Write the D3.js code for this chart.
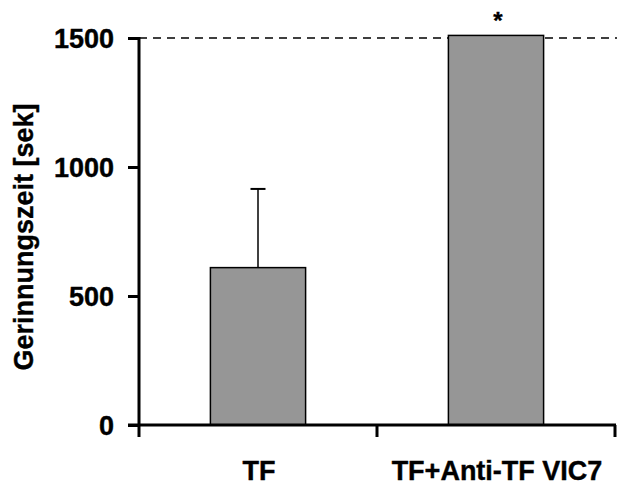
<!DOCTYPE html>
<html><head><meta charset="utf-8">
<script src="https://cdn.jsdelivr.net/npm/d3@7"></script>
<style>body{margin:0;background:#fff}svg{display:block}text{font-family:"Liberation Sans",Arial,sans-serif;font-weight:bold;fill:#000;stroke:#000;stroke-width:0.4px}</style>
</head><body><svg id="c" width="617" height="485"></svg>
<script>
const categories = ["TF", "TF+Anti-TF VIC7"];
const means = [610, 1510];
const errors = [305, 0];
const significance = ["", "*"];
const yTicks = [0, 500, 1000, 1500];
const yTitle = "Gerinnungszeit [sek]";
const limitValue = 1500;

const svg = d3.select("#c");
const x = d3.scaleBand().domain(categories).range([139, 615]).paddingInner(0.6).paddingOuter(0.3);
const y = d3.scaleLinear().domain([0, 1500]).range([425, 38]);

// dashed limit line
svg.append("line").attr("x1", 139).attr("x2", 617).attr("y1", y(limitValue)).attr("y2", y(limitValue))
  .attr("stroke", "#000").attr("stroke-width", 1.5).attr("stroke-dasharray", "8,6");

// error bars (upper only)
const eb = svg.append("g");
categories.forEach((c, i) => {
  if (!errors[i]) return;
  const cx = x(c) + x.bandwidth() / 2;
  eb.append("line").attr("x1", cx).attr("x2", cx).attr("y1", y(means[i])).attr("y2", y(means[i] + errors[i])).attr("stroke", "#000").attr("stroke-width", 1.5);
  eb.append("line").attr("x1", cx - 7.5).attr("x2", cx + 7.5).attr("y1", y(means[i] + errors[i])).attr("y2", y(means[i] + errors[i])).attr("stroke", "#000").attr("stroke-width", 2);
});

// bars
svg.append("g").selectAll("rect").data(categories).join("rect")
  .attr("x", d => x(d)).attr("width", x.bandwidth())
  .attr("y", (d, i) => y(means[i])).attr("height", (d, i) => y(0) - y(means[i]))
  .attr("fill", "#969696").attr("stroke", "#000").attr("stroke-width", 1.5);

// significance markers
svg.append("g").selectAll("text").data(categories).join("text")
  .attr("x", d => x(d) + x.bandwidth() / 2 + 2).attr("y", 29)
  .attr("text-anchor", "middle").style("font-size", "24px")
  .text((d, i) => significance[i]);

// y axis
const yAxis = svg.append("g").attr("transform", "translate(139,0)")
  .call(d3.axisLeft(y).tickValues(yTicks).tickSize(11).tickPadding(14).tickFormat(d3.format("d")));
yAxis.select(".domain").attr("d", `M0,${y(1500) - 1}V${y(0)}`).attr("stroke-width", 3);
yAxis.selectAll(".tick line").attr("stroke-width", 3);
yAxis.selectAll(".tick text").style("font-size", "27px").attr("font-family", null).attr("fill", "#000").attr("dy", "0.36em");

// x axis
const xAxisG = svg.append("g").attr("transform", `translate(0,${y(0)})`);
xAxisG.append("line").attr("x1", 128).attr("x2", 616).attr("y1", 0).attr("y2", 0).attr("stroke", "#000").attr("stroke-width", 3);
const xb = [139, 377, 615];
xAxisG.selectAll("line.tk").data(xb).join("line").attr("class", "tk")
  .attr("x1", d => d).attr("x2", d => d).attr("y1", 0).attr("y2", 12).attr("stroke", "#000").attr("stroke-width", 3);
xAxisG.selectAll("text").data(categories).join("text")
  .attr("x", d => x(d) + x.bandwidth() / 2 + 1).attr("y", 55)
  .attr("text-anchor", "middle").style("font-size", "27px").text(d => d);

// y title
svg.append("text").attr("transform", "translate(33,237) rotate(-90)")
  .attr("text-anchor", "middle").style("font-size", "27px").text(yTitle);
</script></body></html>
